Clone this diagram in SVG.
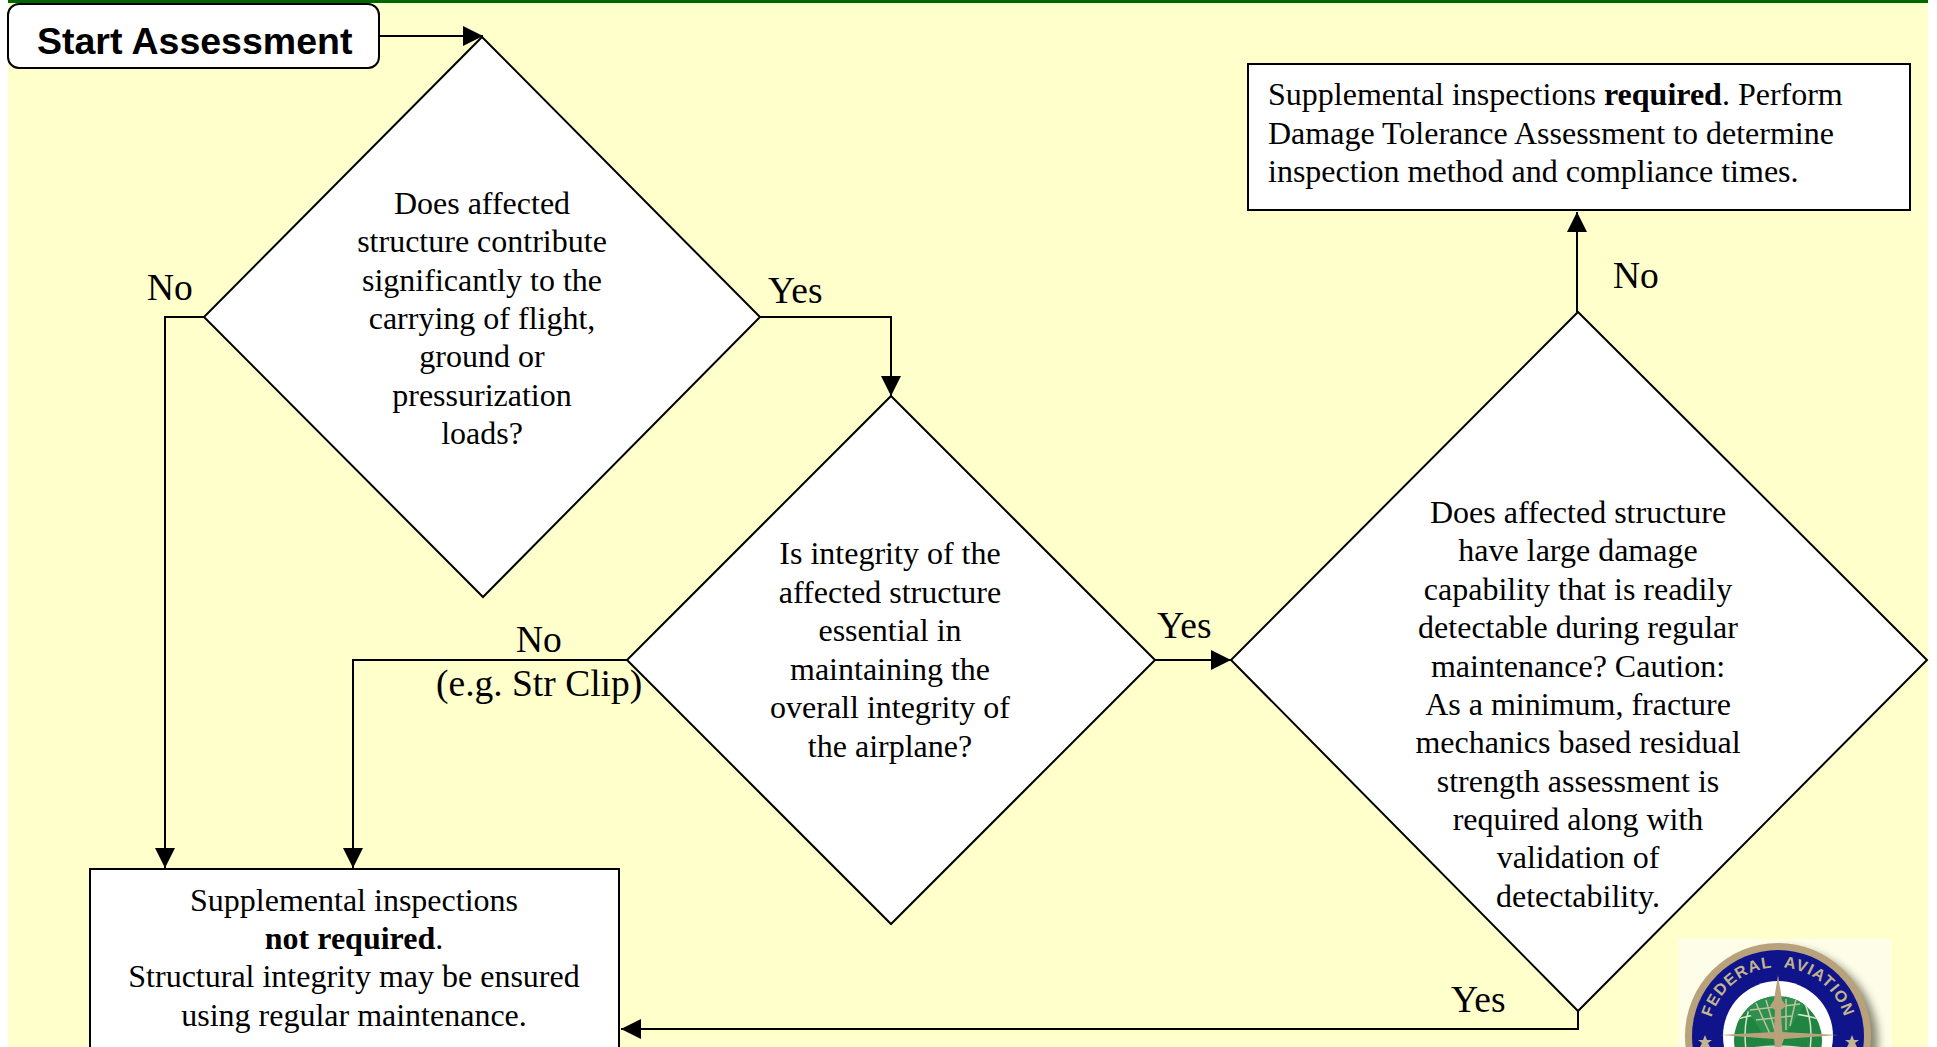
<svg xmlns="http://www.w3.org/2000/svg" width="1937" height="1047" viewBox="0 0 1937 1047">
<style>
.n{fill:#fff;stroke:#000;stroke-width:2}
.t{font-family:"Liberation Serif","Times New Roman",serif;font-size:32px;fill:#000;text-anchor:middle}
.l{font-family:"Liberation Serif","Times New Roman",serif;font-size:37.5px;fill:#000}
.c{fill:none;stroke:#000;stroke-width:2}
.g{fill:none;stroke:#d8e4cc;stroke-width:1.5}
.w{fill:none;stroke:#b9c49a;stroke-width:1.5}
</style>
<defs>
<marker id="a" markerUnits="userSpaceOnUse" markerWidth="22" markerHeight="22" refX="20" refY="10" orient="auto"><path d="M0 0L20 10L0 20Z" fill="#000"/></marker>
<path id="sealArc" d="M1710 1048A69 69 0 1 1 1846 1048"/>
<filter id="soft" x="-20%" y="-20%" width="140%" height="140%"><feGaussianBlur stdDeviation="4"/></filter>
<clipPath id="globe"><circle cx="1778" cy="1040" r="44"/></clipPath>
</defs>
<rect width="1937" height="1047" fill="#fff"/>
<rect x="8" y="0" width="1920" height="1047" fill="#ffffcc"/>
<rect x="8" y="0" width="1920" height="3" fill="#006600"/>
<g id="seal">
<rect x="1678" y="939" width="214" height="108" fill="#fdfde8"/>
<circle cx="1785" cy="1042" r="93" fill="#55553f" opacity=".7" filter="url(#soft)"/>
<circle cx="1778" cy="1036" r="93" fill="#b8a27c"/>
<circle cx="1778" cy="1036" r="86" fill="#10148a"/>
<circle cx="1778" cy="1036" r="55" fill="#fff"/>
<circle cx="1778" cy="1040" r="44" fill="#1f8540"/>
<g clip-path="url(#globe)">
<path class="g" d="M1734 1020Q1778 1006 1822 1020M1734 1052Q1778 1040 1822 1052M1755 996Q1735 1030 1755 1084M1801 996Q1821 1030 1801 1084"/>
<path d="M1745 1006L1762 996L1808 998L1786 1034L1764 1036Z" fill="#2f8f4f"/>
<path class="w" d="M1756 1003L1770 1034M1766 1000L1776 1034M1776 999L1782 1034M1786 999L1786 1030M1796 999L1790 1026M1750 1010L1800 1004M1756 1020L1792 1016"/>
</g>
<path d="M1778 975L1782 1000L1786 1006L1781 1010L1782 1032L1838 1035L1784 1039L1781 1047H1775L1774 1039L1720 1035L1774 1032L1775 1010L1770 1006L1774 1000Z" fill="#b8a27c"/>
<text font-family="Liberation Sans,sans-serif" font-size="16" font-weight="700" fill="#c2b48e" text-anchor="middle" letter-spacing="1.2" word-spacing="6"><textPath href="#sealArc" startOffset="50%">FEDERAL AVIATION</textPath></text>
<path d="M1705 1035L1707 1040L1712 1040L1708 1043L1710 1047H1700L1702 1043L1698 1040L1703 1040Z" fill="#c2b48e"/>
<path d="M1852 1035L1854 1040L1859 1040L1855 1043L1857 1047H1847L1849 1043L1845 1040L1850 1040Z" fill="#c2b48e"/>
</g>
<g id="connectors">
<path class="c" d="M380 36H483" marker-end="url(#a)"/>
<path class="c" d="M204 317H165V868" marker-end="url(#a)"/>
<path class="c" d="M760 317H891V396" marker-end="url(#a)"/>
<path class="c" d="M627 660H353V868" marker-end="url(#a)"/>
<path class="c" d="M1155 660H1231" marker-end="url(#a)"/>
<path class="c" d="M1577 312V212" marker-end="url(#a)"/>
<path class="c" d="M1578 1011V1029H621" marker-end="url(#a)"/>
</g>
<g id="start">
<rect x="8" y="4" width="371" height="64" rx="11" class="n"/>
<text x="37" y="54" font-family="Liberation Sans,Arial,sans-serif" font-size="37.5" font-weight="700">Start Assessment</text>
</g>
<g id="d1">
<path class="n" d="M482 37L760 317L483 597L204 317Z"/>
<text class="t" y="214"><tspan x="482">Does affected</tspan><tspan x="482" y="252">structure contribute</tspan><tspan x="482" y="291">significantly to the</tspan><tspan x="482" y="329">carrying of flight,</tspan><tspan x="482" y="367">ground or</tspan><tspan x="482" y="406">pressurization</tspan><tspan x="482" y="444">loads?</tspan></text>
</g>
<g id="d2">
<path class="n" d="M891 396L1155 660L891 924L627 660Z"/>
<text class="t" y="564"><tspan x="890">Is integrity of the</tspan><tspan x="890" y="603">affected structure</tspan><tspan x="890" y="641">essential in</tspan><tspan x="890" y="680">maintaining the</tspan><tspan x="890" y="718">overall integrity of</tspan><tspan x="890" y="757">the airplane?</tspan></text>
</g>
<g id="d3">
<path class="n" d="M1578 312L1927 660L1578 1011L1231 660Z"/>
<text class="t" y="523"><tspan x="1578">Does affected structure</tspan><tspan x="1578" y="561">have large damage</tspan><tspan x="1578" y="600">capability that is readily</tspan><tspan x="1578" y="638">detectable during regular</tspan><tspan x="1578" y="677">maintenance? Caution:</tspan><tspan x="1578" y="715">As a minimum, fracture</tspan><tspan x="1578" y="753">mechanics based residual</tspan><tspan x="1578" y="792">strength assessment is</tspan><tspan x="1578" y="830">required along with</tspan><tspan x="1578" y="868">validation of</tspan><tspan x="1578" y="907">detectability.</tspan></text>
</g>
<g id="req">
<rect x="1248" y="64" width="662" height="146" class="n"/>
<text class="t" style="text-anchor:start" y="105"><tspan x="1268">Supplemental inspections <tspan font-weight="700">required</tspan>. Perform</tspan><tspan x="1268" y="144">Damage Tolerance Assessment to determine</tspan><tspan x="1268" y="182">inspection method and compliance times.</tspan></text>
</g>
<g id="notreq">
<rect x="90" y="869" width="529" height="200" class="n"/>
<text class="t" y="911"><tspan x="354">Supplemental inspections</tspan><tspan x="354" y="949" font-weight="700">not required<tspan font-weight="400">.</tspan></tspan><tspan x="354" y="987">Structural integrity may be ensured</tspan><tspan x="354" y="1026">using regular maintenance.</tspan></text>
</g>
<g id="labels">
<text class="l" x="147" y="300">No</text>
<text class="l" x="768" y="303">Yes</text>
<text class="l" x="516" y="652">No</text>
<text class="l" x="436" y="696">(e.g. Str Clip)</text>
<text class="l" x="1157" y="638">Yes</text>
<text class="l" x="1613" y="288">No</text>
<text class="l" x="1451" y="1012">Yes</text>
</g>
</svg>
